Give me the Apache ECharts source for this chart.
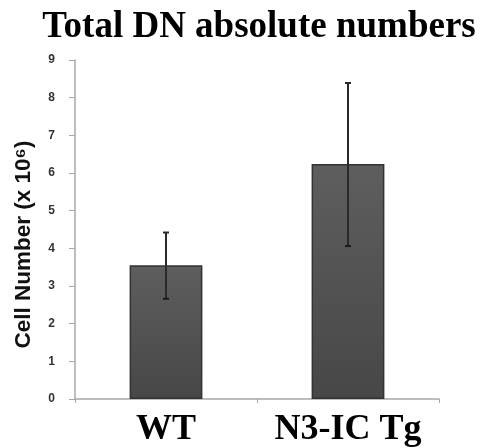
<!DOCTYPE html>
<html>
<head>
<meta charset="utf-8">
<script src="https://cdn.jsdelivr.net/npm/echarts@6/dist/echarts.min.js"></script>
<style>html,body{margin:0;padding:0;background:#fff}#c{width:482px;height:448px}</style>
</head>
<body>
<div id="c"></div>
<script>
var categories = ['WT', 'N3-IC Tg'];
var means = [3.55, 6.24];
var errUpper = [4.42, 8.39];
var errLower = [2.66, 4.06];
var yTicks = [0, 1, 2, 3, 4, 5, 6, 7, 8, 9];

var chart = echarts.init(document.getElementById('c'), null, {renderer: 'canvas'});
var errData = categories.map(function (c, i) { return [i, errLower[i], errUpper[i]]; });

chart.setOption({
  animation: false,
  backgroundColor: '#fff',
  title: {
    text: 'Total DN absolute numbers',
    left: 254, top: 4, textAlign: 'center',
    textStyle: {fontFamily: 'Liberation Serif', fontWeight: 'bold', fontSize: 37, color: '#000'}
  },
  grid: {left: 75, right: 43, top: 60, bottom: 49, outerBoundsMode: 'none'},
  xAxis: {
    type: 'category', data: categories,
    axisLine: {lineStyle: {color: '#a8a8a8', width: 1.5}},
    axisTick: {show: true, length: 4, lineStyle: {color: '#a8a8a8'}},
    axisLabel: {interval: 0, hideOverlap: false, margin: 13, fontFamily: 'Liberation Serif', fontWeight: 'bold', fontSize: 36, color: '#000'}
  },
  yAxis: {
    type: 'value', min: yTicks[0], max: yTicks[yTicks.length - 1], interval: 1,
    name: 'Cell Number (x 10\u2076)', nameLocation: 'middle', nameGap: 40,
    nameTextStyle: {fontFamily: 'Liberation Sans', fontWeight: 'bold', fontSize: 22.5, color: '#111', padding: [0, 30, 0, 0]},
    axisLine: {show: true, lineStyle: {color: '#a8a8a8', width: 1.5}},
    axisTick: {show: true, length: 6, lineStyle: {color: '#a8a8a8'}},
    splitLine: {show: false},
    axisLabel: {margin: 20, fontFamily: 'Liberation Sans', fontWeight: 'bold', fontSize: 12, color: '#333'}
  },
  series: [
    {
      type: 'bar', data: means, barWidth: '40%',
      itemStyle: {
        color: new echarts.graphic.LinearGradient(0, 0, 0, 1, [
          {offset: 0, color: '#5e5e5e'}, {offset: 1, color: '#474747'}
        ]),
        borderColor: '#333', borderWidth: 1.5
      }
    },
    {
      type: 'custom', data: errData, z: 5,
      renderItem: function (params, api) {
        var x = api.value(0);
        var lo = api.coord([x, api.value(1)]);
        var hi = api.coord([x, api.value(2)]);
        var cw = 3;
        return {
          type: 'group',
          children: [
            {type: 'line', shape: {x1: hi[0], y1: hi[1], x2: lo[0], y2: lo[1]}, style: {stroke: '#2a2a2a', lineWidth: 2}},
            {type: 'line', shape: {x1: hi[0] - cw, y1: hi[1], x2: hi[0] + cw, y2: hi[1]}, style: {stroke: '#2a2a2a', lineWidth: 2}},
            {type: 'line', shape: {x1: lo[0] - cw, y1: lo[1], x2: lo[0] + cw, y2: lo[1]}, style: {stroke: '#1a1a1a', lineWidth: 2}}
          ]
        };
      }
    }
  ]
});
</script>
</body>
</html>
